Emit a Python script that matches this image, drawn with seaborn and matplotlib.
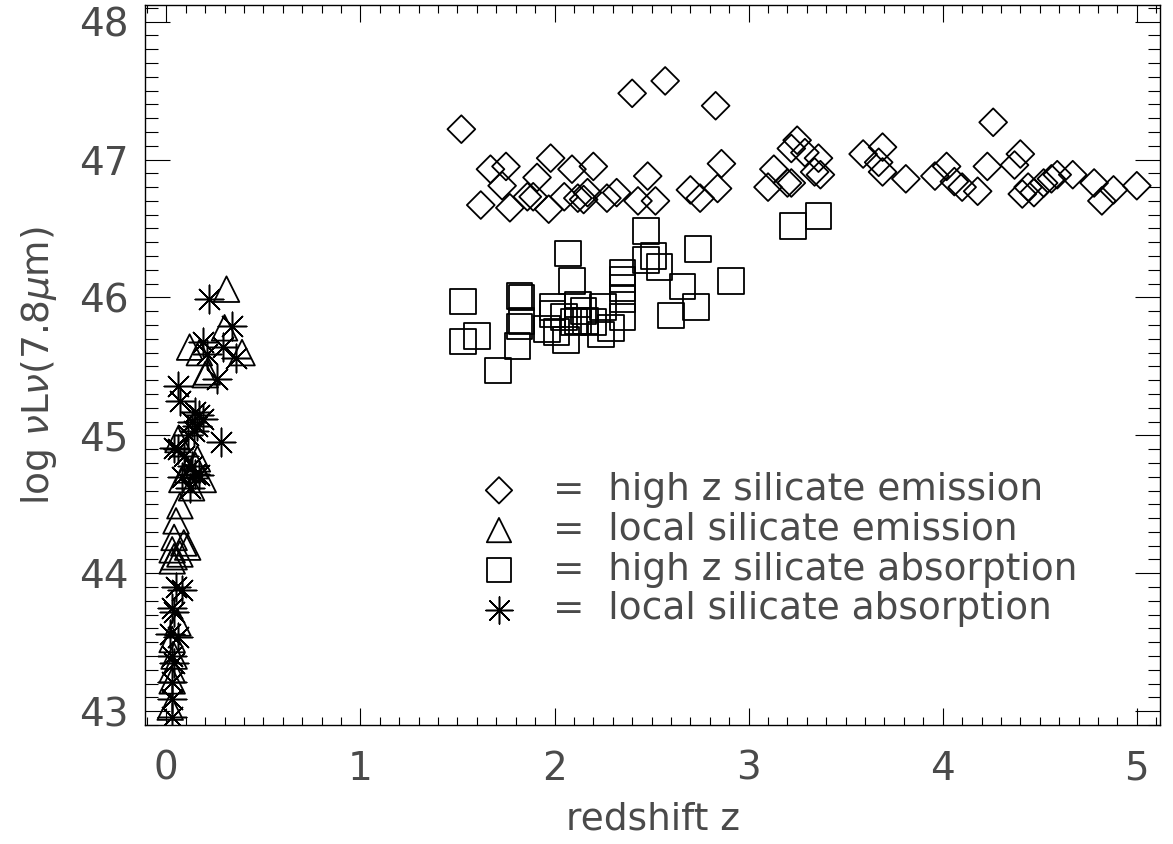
import matplotlib
matplotlib.use('Agg')
import matplotlib.pyplot as plt
from matplotlib.ticker import MultipleLocator
import seaborn as sns

# high z silicate emission (diamonds)
emis_hiz_z = [1.52, 2.40, 2.57, 2.83, 1.67, 1.75, 1.73, 1.62, 1.98, 2.09, 2.20, 1.91, 1.77, 1.86,
              1.89, 1.97, 2.05, 2.12, 2.17, 2.15, 2.27, 2.32, 2.48, 2.43, 2.52, 2.70, 2.75, 2.84,
              2.86, 3.13, 3.10, 3.25, 3.22, 3.29, 3.36, 3.37, 3.34, 3.20, 3.22, 3.59, 3.69, 3.67,
              3.69, 3.81, 3.96, 4.02, 4.06, 4.10, 4.18, 4.23, 4.26, 4.40, 4.37, 4.44, 4.41, 4.47,
              4.52, 4.56, 4.59, 4.67, 4.78, 4.82, 4.88, 5.00]
emis_hiz_L = [47.22, 47.48, 47.57, 47.39, 46.93, 46.95, 46.81, 46.67, 47.01, 46.93, 46.95, 46.87, 46.65, 46.73,
              46.73, 46.64, 46.73, 46.72, 46.76, 46.71, 46.72, 46.76, 46.88, 46.70, 46.70, 46.78, 46.72, 46.79,
              46.97, 46.93, 46.80, 47.14, 47.08, 47.05, 47.01, 46.89, 46.91, 46.83, 46.83, 47.04, 47.09, 46.98,
              46.91, 46.86, 46.88, 46.95, 46.84, 46.80, 46.77, 46.95, 47.27, 47.04, 46.96, 46.80, 46.75, 46.76,
              46.83, 46.86, 46.89, 46.89, 46.83, 46.70, 46.78, 46.81]

# local silicate emission (triangles)
emis_loc_z = [0.31, 0.30, 0.12, 0.17, 0.39, 0.20, 0.21, 0.06, 0.11, 0.15, 0.19, 0.08, 0.13, 0.16,
              0.07, 0.05, 0.04, 0.09, 0.11, 0.03, 0.04, 0.07, 0.03, 0.06, 0.03, 0.04, 0.03, 0.03, 0.02]
emis_loc_L = [46.06, 45.78, 45.64, 45.60, 45.60, 45.44, 45.46, 44.97, 44.75, 44.78, 44.68, 44.68, 44.62, 44.83,
              44.49, 44.38, 44.26, 44.22, 44.19, 44.17, 44.12, 44.14, 44.09, 43.64, 43.52, 43.40, 43.30, 43.22, 43.03]

# high z silicate absorption (squares)
abs_hiz_z = [2.47, 2.07, 2.74, 2.51, 2.47, 2.54, 2.35, 2.09, 2.91, 2.35, 2.66, 2.35, 1.53, 1.82,
             1.83, 2.73, 2.35, 2.60, 1.99, 2.12, 2.25, 2.15, 2.05, 1.83, 1.82, 1.96, 2.01, 2.12,
             2.16, 2.20, 2.29, 2.24, 2.35, 1.60, 1.53, 1.81, 2.06, 1.71, 2.10, 1.99, 3.23, 3.36]
abs_hiz_L = [46.48, 46.32, 46.35, 46.30, 46.27, 46.22, 46.18, 46.12, 46.12, 46.13, 46.08, 46.07, 45.97, 46.01,
             46.00, 45.93, 45.99, 45.87, 45.93, 45.95, 45.93, 45.90, 45.86, 45.83, 45.79, 45.77, 45.75, 45.83,
             45.83, 45.82, 45.78, 45.73, 45.86, 45.72, 45.68, 45.65, 45.69, 45.47, 45.82, 45.88, 46.52, 46.59]

# local silicate absorption (asterisks)
abs_loc_z = [0.22, 0.34, 0.19, 0.29, 0.21, 0.36, 0.26, 0.06, 0.07, 0.15, 0.17, 0.13, 0.16, 0.19,
             0.14, 0.11, 0.28, 0.04, 0.06, 0.09, 0.13, 0.15, 0.08, 0.17, 0.12, 0.05, 0.08, 0.03,
             0.04, 0.02, 0.06, 0.03, 0.04, 0.03, 0.03, 0.03]
abs_loc_L = [45.99, 45.79, 45.68, 45.64, 45.59, 45.56, 45.41, 45.36, 45.25, 45.17, 45.15, 45.10, 45.07, 45.12,
             45.03, 45.00, 44.95, 44.91, 44.90, 44.85, 44.78, 44.72, 44.70, 44.71, 44.62, 43.90, 43.88, 43.75,
             43.72, 43.56, 43.54, 43.40, 43.35, 43.21, 43.09, 42.96]

labels = ['=  high z silicate emission', '=  local silicate emission',
          '=  high z silicate absorption', '=  local silicate absorption']

sns.set_style('ticks')
plt.rcParams['font.family'] = ['DejaVu Sans']
plt.rcParams['mathtext.fontset'] = 'dejavusans'
txt = '#4a4a4a'

fig = plt.figure(figsize=(11.73, 8.44), dpi=100)
ax = fig.add_axes([0.1236, 0.141, 0.8654, 0.853])

lw = 1.3
sns.scatterplot(x=emis_hiz_z, y=emis_hiz_L, marker='D', s=200, facecolor='none',
                edgecolor='black', linewidth=lw, label=labels[0], ax=ax)
sns.scatterplot(x=emis_loc_z, y=emis_loc_L, marker='^', s=340, facecolor='none',
                edgecolor='black', linewidth=lw, label=labels[1], ax=ax)
sns.scatterplot(x=abs_hiz_z, y=abs_hiz_L, marker='s', s=340, facecolor='none',
                edgecolor='black', linewidth=lw, label=labels[2], ax=ax)
sns.scatterplot(x=abs_loc_z, y=abs_loc_L, marker=(8, 2, 0), s=420, color='black',
                linewidth=1.1, label=labels[3], ax=ax)

ax.set_xlim(-0.11, 5.12)
ax.set_ylim(42.9, 48.12)
ax.xaxis.set_major_locator(MultipleLocator(1))
ax.xaxis.set_minor_locator(MultipleLocator(0.1))
ax.yaxis.set_major_locator(MultipleLocator(1))
ax.yaxis.set_minor_locator(MultipleLocator(0.1))
ax.tick_params(which='both', direction='in', top=True, right=True, color='black', width=0.8)
ax.tick_params(axis='x', which='major', length=12, pad=18, labelsize=28, labelcolor=txt)
ax.tick_params(axis='x', which='minor', length=6)
ax.tick_params(axis='y', which='major', length=18, pad=12, labelsize=28, labelcolor=txt)
ax.tick_params(axis='y', which='minor', length=9)
for sp in ax.spines.values():
    sp.set_color('black')
    sp.set_linewidth(1.0)

ax.set_xlabel('redshift z', fontsize=27, labelpad=10, color=txt)
ax.set_ylabel(r'log $\nu$L$\nu$(7.8$\mu$m)', fontsize=27, labelpad=14, color=txt)

leg = ax.legend(loc='upper left', bbox_to_anchor=(0.297, 0.372), frameon=False, fontsize=27,
                handletextpad=0.45, labelspacing=0.1, borderaxespad=0, markerscale=0.95)
for t in leg.get_texts():
    t.set_color(txt)

fig.savefig('out.png', dpi=100)
